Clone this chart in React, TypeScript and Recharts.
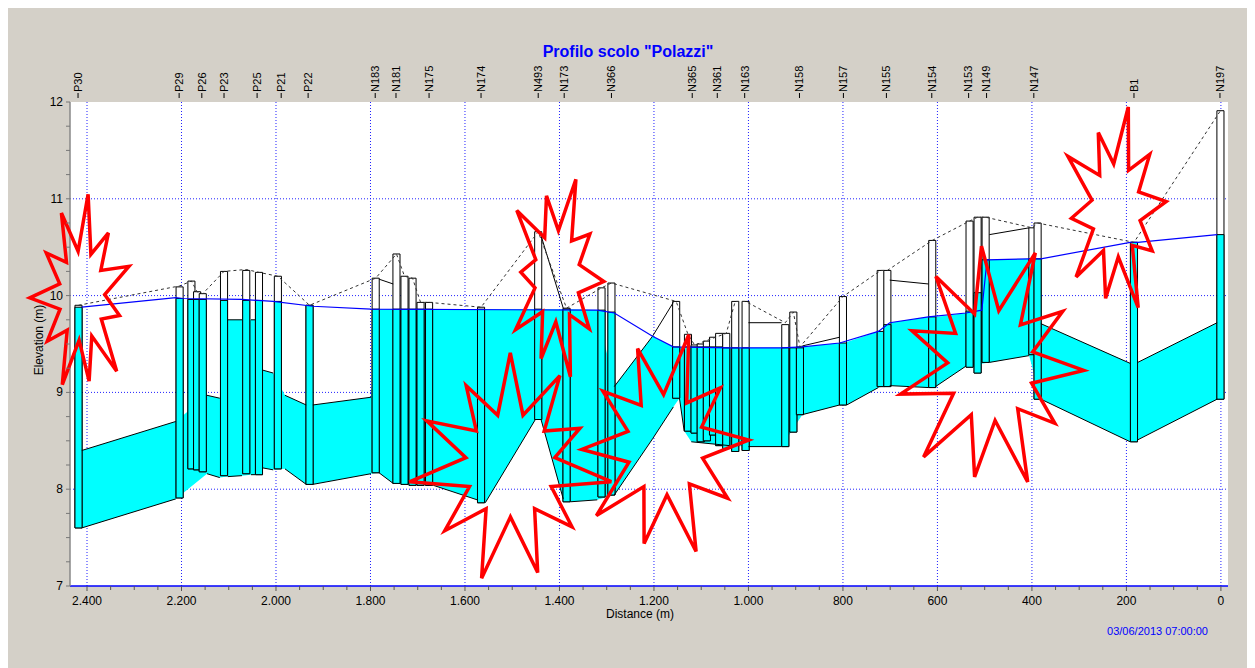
import React from "react";
import {
  ComposedChart,
  Area,
  Line,
  XAxis,
  YAxis,
  CartesianGrid,
  ReferenceArea,
  ReferenceDot,
} from "recharts";

// node names written above the profile, and their distances (m)
const LABEL_NAMES = [
  "P30", "P29", "P26", "P23", "P25", "P21", "P22", "N183", "N181", "N175", "N174", "N493", "N173",
  "N366", "N365", "N361", "N163", "N158", "N157", "N155", "N154", "N153", "N149", "N147", "B1", "N197",
];
const LABEL_DIST = [
  2419, 2205, 2157, 2110, 2040, 1989, 1932, 1790, 1746, 1676, 1566, 1445, 1390,
  1290, 1119, 1066, 1008, 892, 799, 708, 612, 534, 496, 396, 184, 2,
];

// manholes: [distance, invert, rim, water level]
const NODES: [number, number, number, number][] = [
  [2418, 7.6, 9.9, 9.88],
  [2204, 7.91, 10.09, 9.97],
  [2179, 8.21, 10.15, 9.96],
  [2167, 8.2, 10.04, 9.96],
  [2155, 8.18, 10.02, 9.96],
  [2110, 8.14, 10.25, 9.95],
  [2063, 8.16, 10.26, 9.95],
  [2036, 8.15, 10.24, 9.95],
  [1996, 8.21, 10.2, 9.94],
  [1929, 8.05, 9.9, 9.9],
  [1789, 8.17, 10.18, 9.86],
  [1745, 8.06, 10.43, 9.86],
  [1728, 8.05, 10.2, 9.86],
  [1711, 8.04, 10.18, 9.86],
  [1694, 8.04, 9.93, 9.86],
  [1676, 8.04, 9.93, 9.86],
  [1566, 7.86, 9.88, 9.86],
  [1445, 8.72, 10.66, 9.86],
  [1385, 7.87, 9.87, 9.86],
  [1311, 7.92, 10.08, 9.85],
  [1290, 7.94, 10.13, 9.83],
  [1153, 8.94, 9.94, 9.47],
  [1128, 8.6, 9.6, 9.47],
  [1114, 8.58, 9.49, 9.47],
  [1101, 8.49, 9.5, 9.47],
  [1088, 8.5, 9.53, 9.47],
  [1075, 8.56, 9.57, 9.47],
  [1062, 8.45, 9.61, 9.47],
  [1047, 8.42, 9.61, 9.46],
  [1028, 8.39, 9.94, 9.46],
  [1006, 8.4, 9.94, 9.46],
  [922, 8.44, 9.7, 9.46],
  [905, 8.59, 9.83, 9.46],
  [891, 8.77, 9.47, 9.46],
  [800, 8.87, 9.99, 9.51],
  [720, 9.06, 10.26, 9.63],
  [706, 9.06, 10.26, 9.7],
  [611, 9.05, 10.57, 9.78],
  [532, 9.26, 10.77, 9.84],
  [515, 9.2, 10.81, 10.03],
  [498, 9.31, 10.81, 10.37],
  [399, 9.39, 10.7, 10.38],
  [388, 8.93, 10.75, 10.38],
  [184, 8.49, 10.55, 10.55],
  [1, 8.93, 11.91, 10.63],
];

// conduits: points [distance, invert, top of the wet section]
const PIPES: [number, number, number][][] = [
  [[2411, 7.6, 8.4], [2212, 7.9, 8.7]],
  [[2146, 8.16, 8.97], [2119, 8.12, 8.94]],
  [[2102, 8.13, 9.75], [2072, 8.14, 9.75]],
  [[2053, 8.15, 9.75], [2044, 8.15, 9.75]],
  [[2028, 8.22, 9.23], [2006, 8.2, 9.2]],
  [[1981, 8.21, 8.97], [1936, 8.05, 8.87]],
  [[1922, 8.05, 8.87], [1799, 8.16, 8.95]],
  [[1782, 8.17, 9.86], [1752, 8.06, 9.86]],
  [[1667, 8.04, 9.86], [1574, 7.89, 9.86]],
  [[1557, 7.86, 9.86], [1451, 8.72, 9.86]],
  [[1439, 8.72, 9.86], [1392, 7.9, 9.86]],
  [[1377, 7.87, 9.86], [1320, 7.89, 9.85]],
  [[1284, 7.94, 9.06], [1203, 8.52, 9.58], [1159, 8.85, 9.47]],
  [[1146, 8.94, 9.47], [1136, 8.6, 9.47]],
  [[1121, 8.49, 9.47], [1040, 8.45, 9.46]],
  [[1000, 8.44, 9.46], [930, 8.44, 9.46]],
  [[886, 8.77, 9.47], [807, 8.87, 9.51]],
  [[792, 8.87, 9.52], [725, 9.05, 9.63]],
  [[701, 9.07, 9.72], [619, 9.05, 9.78]],
  [[604, 9.06, 9.78], [540, 9.27, 9.82]],
  [[490, 9.31, 10.37], [406, 9.38, 10.38]],
  [[381, 8.93, 9.71], [192, 8.49, 9.3]],
  [[176, 8.51, 9.31], [8, 8.93, 9.72]],
];

// pipe crowns: [distance, elevation]
const CROWNS: [number, number][][] = [
  [[2411, 8.4], [2212, 8.7]],
  [[2146, 8.97], [2119, 8.94]],
  [[2102, 9.75], [2072, 9.75]],
  [[2053, 9.75], [2044, 9.75]],
  [[2028, 9.23], [2006, 9.2]],
  [[1981, 8.97], [1936, 8.87]],
  [[1922, 8.87], [1799, 8.95]],
  [[1782, 10.17], [1752, 10.12]],
  [[1439, 10.62], [1392, 9.87]],
  [[1284, 9.06], [1203, 9.58], [1159, 9.93]],
  [[1000, 9.72], [930, 9.72]],
  [[886, 9.48], [807, 9.57]],
  [[701, 10.16], [619, 10.12]],
  [[490, 10.63], [406, 10.7]],
  [[381, 9.71], [192, 9.3]],
  [[176, 9.31], [8, 9.72]],
];

// hydraulic grade line
const WATER: [number, number][] = [
  [2411, 9.88], [2212, 9.98], [2197, 9.97], [2072, 9.96], [2006, 9.94], [1922, 9.89],
  [1799, 9.86], [1320, 9.85], [1284, 9.82], [1203, 9.58], [1159, 9.47], [1040, 9.46],
  [930, 9.46], [886, 9.47], [807, 9.51], [725, 9.63], [701, 9.72], [619, 9.78],
  [540, 9.82], [506, 9.85], [495, 10.37], [406, 10.38], [381, 10.38], [192, 10.55],
  [176, 10.55], [8, 10.63],
];

// ground level
const GROUND: [number, number][] = [
  [2418, 9.9], [2204, 10.1], [2179, 10.15], [2167, 10.04], [2155, 10.02], [2110, 10.25],
  [2063, 10.27], [2036, 10.24], [1996, 10.2], [1929, 9.9], [1789, 10.18], [1745, 10.43],
  [1728, 10.2], [1711, 10.18], [1694, 9.93], [1676, 9.93], [1566, 9.88], [1445, 10.66],
  [1385, 9.87], [1311, 10.08], [1290, 10.13], [1153, 9.94], [1128, 9.6], [1114, 9.49],
  [1047, 9.61], [1028, 9.94], [1006, 9.94], [922, 9.72], [905, 9.83], [891, 9.47],
  [800, 9.99], [720, 10.26], [706, 10.26], [611, 10.57], [532, 10.77], [515, 10.81],
  [498, 10.81], [399, 10.7], [388, 10.75], [184, 10.55], [1, 11.91],
];

// red star marks pasted over the picture
const STARS = [
  { d: 2411, e: 10.0, rx: 52, ry: 102, rot: -1.45, spikes: [1, 0.8, 0.95, 0.75, 1, 0.85, 0.95, 0.8, 1, 0.8, 0.9] },
  { d: 1405, e: 10.2, rx: 52, ry: 104, rot: -1.2, spikes: [1, 0.75, 0.9, 0.8, 1, 0.85, 0.95, 0.7, 1, 0.8] },
  { d: 1504, e: 8.25, rx: 102, ry: 118, rot: -1.0, spikes: [0.9, 0.75, 1, 0.8, 0.95, 1, 0.85, 1, 0.9, 0.8, 0.95] },
  { d: 1176, e: 8.46, rx: 88, ry: 114, rot: -1.3, spikes: [1, 0.8, 0.95, 0.85, 1, 0.9, 1, 0.95, 0.85, 0.9] },
  { d: 487, e: 9.28, rx: 98, ry: 126, rot: -1.1, spikes: [1, 0.85, 0.95, 0.8, 1, 0.9, 1, 0.95, 0.85, 0.9, 0.95] },
  { d: 222, e: 10.88, rx: 56, ry: 106, rot: -1.35, spikes: [1, 0.8, 0.9, 0.75, 1, 0.85, 0.95, 0.8, 1, 0.8] },
];

const W = 1244;
const H = 660;
const NODE_W = 15;
const X_DOMAIN: [number, number] = [-15, 2436];
const X_TICKS = Array.from({ length: 49 }, (_, i) => i * 50);
const Y_TICKS = Array.from({ length: 21 }, (_, i) => 7 + i * 0.25);
const FONT = "'Liberation Sans', Arial, sans-serif";

const fillData = PIPES.flatMap((p) => p.map(([d, lo, hi]) => ({ d, r: [lo, hi] })));
const invertData = PIPES.flatMap((p) => [
  ...p.map(([d, lo]) => ({ d, v: lo as number | null })),
  { d: p[p.length - 1][0], v: null },
]);
const crownData = CROWNS.flatMap((c) => [
  ...c.map(([d, v]) => ({ d, v: v as number | null })),
  { d: c[c.length - 1][0], v: null },
]);
const waterData = WATER.map(([d, v]) => ({ d, v }));
const groundData = GROUND.map(([d, v]) => ({ d, v }));

function fmtDist(v: number) {
  const s = String(v);
  return s.length > 3 ? `${s.slice(0, -3)}.${s.slice(-3)}` : s;
}

const BottomTick = ({ x, y, payload }: any) => {
  const v = payload.value;
  const major = v % 200 === 0;
  return (
    <g>
      <line x1={x} y1={y} x2={x} y2={y + (major ? 5 : 4)} stroke="#555" />
      {major && (
        <text x={x} y={y + 19} textAnchor="middle" fontSize={12} fill="#000" fontFamily={FONT}>
          {fmtDist(v)}
        </text>
      )}
    </g>
  );
};

const LeftTick = ({ x, y, payload }: any) => {
  const v = payload.value;
  const major = Number.isInteger(v);
  return (
    <g>
      <line x1={x - 4} y1={y} x2={x} y2={y} stroke="#777" />
      {major && (
        <text x={x - 7} y={y + 4} textAnchor="end" fontSize={12} fill="#000" fontFamily={FONT}>
          {v}
        </text>
      )}
    </g>
  );
};

const TopTick = ({ x, y, payload }: any) => {
  const name = LABEL_NAMES[LABEL_DIST.indexOf(payload.value)];
  return (
    <g>
      <line x1={x} y1={y - 9} x2={x} y2={y - 4} stroke="#000" />
      <text
        transform={`translate(${x},${y - 10}) rotate(-90)`}
        dy="0.35em"
        textAnchor="start"
        fontSize={11}
        fill="#000"
        fontFamily={FONT}
      >
        {name}
      </text>
    </g>
  );
};

const Star = ({ cx, cy, star }: any) => {
  const n = star.spikes.length;
  const pts: string[] = [];
  for (let i = 0; i < n * 2; i++) {
    const a = star.rot + (i * Math.PI) / n;
    const k = i % 2 === 0 ? star.spikes[i / 2] : 0.44;
    pts.push(`${(cx + Math.cos(a) * star.rx * k).toFixed(1)},${(cy + Math.sin(a) * star.ry * k).toFixed(1)}`);
  }
  return <polygon points={pts.join(" ")} fill="none" stroke="#ff0000" strokeWidth={3.5} strokeLinejoin="miter" />;
};

export default function App() {
  return (
    <div style={{ position: "relative", width: W, height: H, background: "#d4d0c8", fontFamily: FONT }}>
      <div
        style={{
          position: "absolute", left: 0, width: 1240, top: 35, textAlign: "center",
          color: "#0000ff", fontWeight: "bold", fontSize: 16,
        }}
      >
        Profilo scolo "Polazzi"
      </div>
      <div
        style={{
          position: "absolute", left: 31, top: 332, transform: "translate(-50%, -50%) rotate(-90deg)",
          fontSize: 12, whiteSpace: "nowrap", color: "#000",
        }}
      >
        Elevation (m)
      </div>
      <div style={{ position: "absolute", left: 532, width: 200, top: 599, textAlign: "center", fontSize: 12 }}>
        Distance (m)
      </div>
      <div style={{ position: "absolute", right: 44, top: 617, fontSize: 11, color: "#0000ff" }}>
        03/06/2013 07:00:00
      </div>

      <ComposedChart width={W} height={H} margin={{ top: 54, right: 24, bottom: 52, left: 22 }}>
        <CartesianGrid
          fill="#ffffff"
          stroke="#2020ff"
          strokeDasharray="1 2"
          horizontalValues={[8, 9, 10, 11]}
          verticalValues={[0, 200, 400, 600, 800, 1000, 1200, 1400, 1600, 1800, 2000, 2200, 2400]}
        />
        <XAxis
          type="number"
          dataKey="d"
          domain={X_DOMAIN}
          allowDataOverflow
          reversed
          ticks={X_TICKS}
          interval={0}
          tick={<BottomTick />}
          tickLine={false}
          tickSize={0}
          tickMargin={0}
          height={30}
          axisLine={{ stroke: "#0000ff", strokeWidth: 1.5 }}
        />
        <XAxis
          xAxisId="top"
          orientation="top"
          type="number"
          dataKey="d"
          domain={X_DOMAIN}
          allowDataOverflow
          reversed
          ticks={LABEL_DIST}
          interval={0}
          tick={<TopTick />}
          tickLine={false}
          tickSize={0}
          tickMargin={0}
          height={40}
          axisLine={false}
        />
        <YAxis
          type="number"
          domain={[7, 12]}
          allowDataOverflow
          ticks={Y_TICKS}
          interval={0}
          tick={<LeftTick />}
          tickLine={false}
          tickSize={0}
          tickMargin={0}
          width={40}
          axisLine={{ stroke: "#888", strokeWidth: 1.5 }}
        />
        <YAxis
          yAxisId="right"
          orientation="right"
          type="number"
          domain={[7, 12]}
          tick={false}
          tickLine={false}
          width={0}
          axisLine={{ stroke: "#000", strokeWidth: 1.5 }}
        />

        <Area
          data={fillData}
          dataKey="r"
          type="linear"
          fill="#00ffff"
          fillOpacity={1}
          stroke="none"
          isAnimationActive={false}
          dot={false}
          activeDot={false}
        />
        <Line data={invertData} dataKey="v" type="linear" stroke="#000" strokeWidth={1} dot={false} activeDot={false} isAnimationActive={false} />
        <Line data={crownData} dataKey="v" type="linear" stroke="#000" strokeWidth={1} dot={false} activeDot={false} isAnimationActive={false} />
        <Line data={waterData} dataKey="v" type="linear" stroke="#0000ff" strokeWidth={1.2} dot={false} activeDot={false} isAnimationActive={false} />
        <Line data={groundData} dataKey="v" type="linear" stroke="#333" strokeWidth={1} strokeDasharray="3 3" dot={false} activeDot={false} isAnimationActive={false} />

        {NODES.map(([d, inv, rim, wl], i) => (
          <React.Fragment key={`n${i}`}>
            <ReferenceArea
              x1={d + NODE_W / 2}
              x2={d - NODE_W / 2}
              y1={inv}
              y2={rim}
              fill="#ffffff"
              fillOpacity={1}
              stroke="#000"
              strokeWidth={1}
              ifOverflow="visible"
            />
            <ReferenceArea
              x1={d + NODE_W / 2}
              x2={d - NODE_W / 2}
              y1={inv}
              y2={Math.min(wl, rim)}
              fill="#00ffff"
              fillOpacity={1}
              stroke="#000"
              strokeWidth={1}
              ifOverflow="visible"
            />
          </React.Fragment>
        ))}

        {STARS.map((s, i) => (
          <ReferenceDot
            key={`s${i}`}
            x={s.d}
            y={s.e}
            r={1}
            ifOverflow="visible"
            shape={(p: any) => <Star cx={p.cx} cy={p.cy} star={s} />}
          />
        ))}
      </ComposedChart>
    </div>
  );
}
